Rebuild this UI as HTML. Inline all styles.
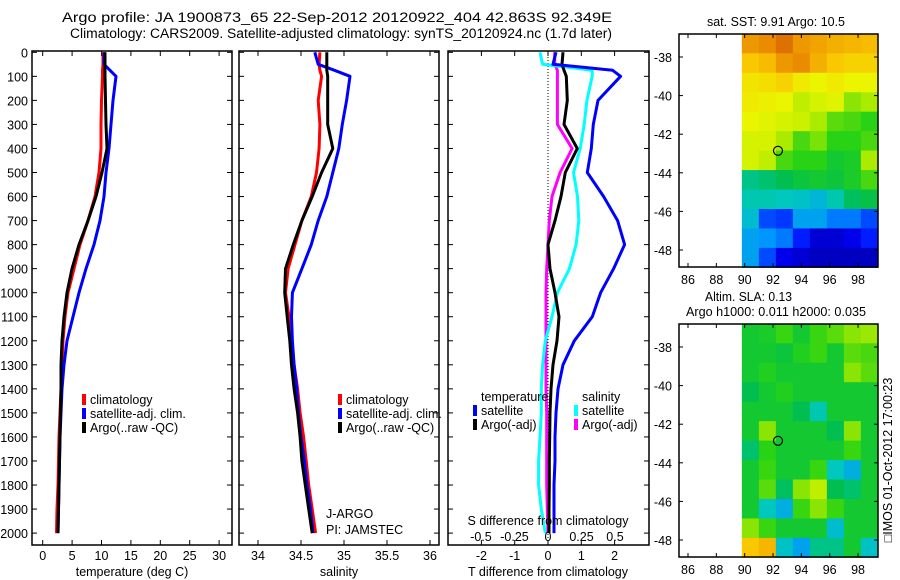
<!DOCTYPE html>
<html><head><meta charset="utf-8"><style>
html,body{margin:0;padding:0;background:#fff;}
svg{display:block;font-family:"Liberation Sans",sans-serif;}
text{font-size:12.5px;fill:#000;}
</style></head><body>
<svg id="chart" width="900" height="580" viewBox="0 0 900 580" xmlns="http://www.w3.org/2000/svg">
<text x="62" y="22" textLength="550" lengthAdjust="spacingAndGlyphs" style="font-size:13.5px">Argo profile: JA 1900873_65 22-Sep-2012 20120922_404 42.863S 92.349E</text>
<text x="70" y="38" textLength="542" lengthAdjust="spacingAndGlyphs" style="font-size:13.5px">Climatology: CARS2009. Satellite-adjusted climatology: synTS_20120924.nc (1.7d later)</text>
<g id="g"></g>
</svg>
<script>
const depths=[0,50,75,100,200,300,400,500,600,700,800,900,1000,1100,1200,1300,1400,1500,1600,1700,1800,1900,2000];
const tempClim=[10.26,10.26,10.17,10.17,10.0,9.91,9.91,9.57,8.89,7.70,6.34,5.32,4.30,3.79,3.45,3.28,3.11,2.94,2.77,2.69,2.60,2.43,2.35];
const tempSat=[10.43,10.43,11.45,12.47,11.96,11.62,11.28,10.77,10.43,9.74,8.72,7.36,6.17,5.15,4.13,3.62,3.28,3.11,2.94,2.86,2.77,2.69,2.60];
const tempArgo=[10.6,10.6,10.6,10.6,10.68,10.77,10.94,10.08,9.06,7.70,6.17,4.98,4.13,3.62,3.28,3.11,3.11,3.03,2.94,2.86,2.77,2.69,2.60];
const salClim=[34.72,34.71,34.72,34.74,34.70,34.72,34.71,34.68,34.62,34.51,34.43,34.35,34.32,34.36,34.39,34.42,34.46,34.49,34.53,34.56,34.59,34.63,34.67];
const salSat=[34.66,34.70,34.89,35.07,35.03,34.98,34.94,34.87,34.80,34.70,34.62,34.51,34.40,34.39,34.40,34.42,34.45,34.47,34.50,34.54,34.57,34.61,34.64];
const salArgo=[34.80,34.80,34.80,34.81,34.81,34.81,34.87,34.74,34.63,34.51,34.41,34.32,34.31,34.34,34.37,34.39,34.42,34.46,34.49,34.51,34.55,34.59,34.63];
const dTsat=[0.24,0.15,1.94,2.18,1.5,1.36,1.3,1.18,1.67,2.09,2.3,1.97,1.58,1.33,0.79,0.45,0.30,0.24,0.21,0.21,0.18,0.18,0.18];
const dTargo=[0.45,0.42,0.48,0.55,0.58,0.48,0.88,0.52,0.39,0.21,0.0,0.06,0.21,0.33,0.27,0.15,0.09,0.06,0.05,0.04,0.04,0.03,0.03];
const dSsat=[-0.06,-0.04,0.33,0.33,0.29,0.27,0.24,0.19,0.22,0.23,0.21,0.16,0.07,0.03,-0.02,-0.04,-0.05,-0.05,-0.06,-0.07,-0.07,-0.05,-0.02];
const dSargo=[0.05,0.05,0.07,0.07,0.07,0.07,0.18,0.09,0.03,0.01,0.0,-0.01,-0.015,-0.015,-0.015,-0.015,-0.015,-0.01,-0.01,-0.01,-0.01,-0.005,0];
const depthTicks=[0,100,200,300,400,500,600,700,800,900,1000,1100,1200,1300,1400,1500,1600,1700,1800,1900,2000];
const tempTicks=[0,5,10,15,20,25,30];
const salTicks=[34,34.5,35,35.5,36];
const dTTicks=[-2,-1,0,1,2];
const dSTicks=[-0.5,-0.25,0,0.25,0.5];
const lonTicks=[86,88,90,92,94,96,98];
const latTicks=[-38,-40,-42,-44,-46,-48];
const sstGrid=[
[0.80,0.82,0.85,0.80,0.78,0.76,0.75,0.74],
[0.72,0.74,0.80,0.82,0.76,0.72,0.70,0.70],
[0.67,0.68,0.70,0.66,0.64,0.66,0.64,0.64],
[0.66,0.65,0.64,0.60,0.62,0.63,0.56,0.58],
[0.64,0.63,0.62,0.61,0.58,0.53,0.52,0.50],
[0.62,0.62,0.58,0.52,0.55,0.50,0.50,0.52],
[0.62,0.60,0.52,0.50,0.50,0.47,0.48,0.58],
[0.40,0.42,0.44,0.46,0.47,0.46,0.48,0.52],
[0.37,0.37,0.36,0.35,0.33,0.37,0.43,0.45],
[0.34,0.20,0.18,0.30,0.30,0.25,0.25,0.20],
[0.30,0.28,0.25,0.15,0.08,0.08,0.10,0.15],
[0.30,0.20,0.10,0.08,0.06,0.06,0.06,0.06]];
const slaGrid=[
[0.47,0.48,0.51,0.47,0.51,0.53,0.56,0.57],
[0.47,0.47,0.46,0.49,0.51,0.47,0.53,0.52],
[0.47,0.49,0.47,0.47,0.47,0.47,0.56,0.53],
[0.44,0.47,0.49,0.47,0.47,0.47,0.47,0.47],
[0.47,0.47,0.47,0.44,0.37,0.47,0.47,0.47],
[0.47,0.56,0.47,0.47,0.47,0.44,0.56,0.47],
[0.42,0.50,0.47,0.47,0.47,0.47,0.51,0.47],
[0.47,0.51,0.47,0.47,0.51,0.36,0.32,0.47],
[0.47,0.53,0.43,0.56,0.60,0.44,0.42,0.47],
[0.47,0.36,0.32,0.51,0.56,0.51,0.47,0.47],
[0.56,0.51,0.47,0.47,0.47,0.34,0.47,0.47],
[0.72,0.75,0.35,0.30,0.40,0.40,0.47,0.35]];
const gridLon=[89.8,99.4];
const gridLat=[-36.8,-48.9];
const argoLon=92.35, argoLat=-42.86;

const NS="http://www.w3.org/2000/svg";
const G=document.getElementById('g');
function el(tag,attrs,parent){const e=document.createElementNS(NS,tag);for(const k in attrs)e.setAttribute(k,attrs[k]);(parent||G).appendChild(e);return e;}
function txt(s,x,y,anchor,parent){const t=el('text',{x:x,y:y,'text-anchor':anchor||'start'},parent);t.textContent=s;return t;}
const yD=d=>52.3+d*0.2404;
const TOP=51,BOT=545;
const xT=v=>42.7+5.88*v;
const xS=v=>258+86*(v-34);
const xdT=v=>548+33.3*v;
const xdS=v=>548+134*v;

function frame(x0,x1,name){
  const r=el('rect',{x:x0,y:TOP,width:x1-x0,height:BOT-TOP,fill:'none',stroke:'#000','stroke-width':1.5});
  
  
  depthTicks.forEach(d=>{el('line',{x1:x0,x2:x0+5,y1:yD(d),y2:yD(d),stroke:'#000'});el('line',{x1:x1,x2:x1-5,y1:yD(d),y2:yD(d),stroke:'#000'});});
}
function line(xs,xf,color,name){
  const p=depths.map((d,i)=>xf(xs[i]).toFixed(1)+','+yD(d).toFixed(1)).join(' ');
  const pl=el('polyline',{points:p,fill:'none',stroke:color,'stroke-width':3,'stroke-linejoin':'round'});
  
  
}
function xticks(ticks,xf,x0,x1,y,labelY,fmt){
  ticks.forEach(v=>{const x=xf(v);el('line',{x1:x,x2:x,y1:TOP,y2:TOP+5,stroke:'#000'});el('line',{x1:x,x2:x,y1:BOT,y2:BOT-5,stroke:'#000'});
    const t=txt(fmt?fmt(v):String(v),x,labelY,'middle');});
}
function legendEntry(x,y,color,label,name){
  el('rect',{x:x,y:y-10,width:4,height:11,fill:color});
  const t=txt(label,x+8,y);
  
  
}
depthTicks.forEach(d=>{const t=txt(String(d),28,yD(d)+5,'end');});
frame(32,232,'temperature-panel');
xticks(tempTicks,xT,32,232,BOT,560);
line(tempClim,xT,'#ff0000','temp-climatology-line');
line(tempSat,xT,'#0000ff','temp-satellite-line');
line(tempArgo,xT,'#000000','temp-argo-line');
let t=txt('temperature (deg C)',132,576,'middle');
legendEntry(82,404,'#ff0000','climatology','legend-climatology');
legendEntry(82,418,'#0000ff','satellite-adj. clim.','legend-satellite-adj');
legendEntry(82,432,'#000000','Argo(..raw -QC)','legend-argo');
frame(239,439,'salinity-panel');
xticks(salTicks,xS,239,439,BOT,560);
line(salClim,xS,'#ff0000','sal-climatology-line');
line(salSat,xS,'#0000ff','sal-satellite-line');
line(salArgo,xS,'#000000','sal-argo-line');
t=txt('salinity',339,576,'middle');
legendEntry(338,404,'#ff0000','climatology','legend-climatology-2');
legendEntry(338,418,'#0000ff','satellite-adj. clim.','legend-satellite-adj-2');
legendEntry(338,432,'#000000','Argo(..raw -QC)','legend-argo-2');
t=txt('J-ARGO',326,518);
t=txt('PI: JAMSTEC',326,534);
frame(448,649,'difference-panel');
el('line',{x1:xdT(0),x2:xdT(0),y1:TOP,y2:BOT,stroke:'#000','stroke-dasharray':'1,2'});
xticks(dTTicks,xdT,448,649,BOT,560);
line(dSargo,xdS,'#ff00ff','dS-argo-line');
line(dSsat,xdS,'#00ffff','dS-satellite-line');
line(dTargo,xdT,'#000000','dT-argo-line');
line(dTsat,xdT,'#0000ff','dT-satellite-line');
dSTicks.forEach(v=>{const t=txt(String(v),xdS(v),541,'middle');});
t=txt('S difference from climatology',548,525,'middle');
t=txt('T difference from climatology',548,576,'middle');
t=txt('temperature',481,401);
legendEntry(473,415,'#0000ff','satellite','legend-t-satellite');
legendEntry(473,429,'#000000','Argo(-adj)','legend-t-argo');
t=txt('salinity',582,401);
legendEntry(574,415,'#00ffff','satellite','legend-s-satellite');
legendEntry(574,429,'#ff00ff','Argo(-adj)','legend-s-argo');
const stops=[[0,[0,0,130]],[0.12,[0,0,255]],[0.28,[0,150,255]],[0.36,[0,200,190]],[0.44,[0,190,80]],[0.5,[40,210,20]],[0.58,[170,235,0]],[0.64,[235,245,0]],[0.72,[250,200,0]],[0.82,[235,140,0]],[0.9,[200,70,0]],[1,[150,20,0]]];
function cmap(v){for(let i=1;i<stops.length;i++){if(v<=stops[i][0]){const a=stops[i-1],b=stops[i];const f=(v-a[0])/(b[0]-a[0]);const c=a[1].map((x,k)=>Math.round(x+(b[1][k]-x)*f));return 'rgb('+c.join(',')+')';}}return 'rgb(150,20,0)';}
function map(grid,y0,name){
  const x0=679,x1=878,y1=y0+233;
  const xL=lon=>688+(lon-86)*14.17;
  const yL=lat=>y0+23+(-38-lat)*19.3;
  const g=el('g',{});
  
  
  const rows=grid.length,cols=grid[0].length;
  const gx0=xL(gridLon[0]),gx1=Math.min(xL(gridLon[1]),x1),gy0=yL(gridLat[0]),gy1=yL(gridLat[1]);
  const cw=(gx1-gx0)/cols,ch=(gy1-gy0)/rows;
  grid.forEach((row,r)=>row.forEach((v,c)=>{const cell=el('rect',{x:gx0+c*cw,y:gy0+r*ch,width:cw+0.5,height:ch+0.5,fill:cmap(v)},g);
    
    }));
  el('rect',{x:x0,y:y0,width:x1-x0,height:y1-y0,fill:'none',stroke:'#000','stroke-width':1.5});
  lonTicks.forEach(l=>{const x=xL(l);el('line',{x1:x,x2:x,y1:y0,y2:y0+4,stroke:'#000'});el('line',{x1:x,x2:x,y1:y1,y2:y1-4,stroke:'#000'});
    const t=txt(String(l),x,y1+17,'middle');});
  latTicks.forEach(l=>{const y=yL(l);el('line',{x1:x0,x2:x0+4,y1:y,y2:y,stroke:'#000'});el('line',{x1:x1,x2:x1-4,y1:y,y2:y,stroke:'#000'});
    const t=txt(String(l),672,y+5,'end');});
  const m=el('circle',{cx:xL(argoLon),cy:yL(argoLat),r:4.5,fill:'none',stroke:'#000','stroke-width':1.2});
  
  
}
map(sstGrid,34,'sst-map');
map(slaGrid,324,'sla-map');
t=txt('sat. SST: 9.91  Argo: 10.5',707,26);t.setAttribute('textLength','138');t.setAttribute('lengthAdjust','spacingAndGlyphs');
t=txt('Altim. SLA: 0.13',705,301);t.setAttribute('textLength','87');t.setAttribute('lengthAdjust','spacingAndGlyphs');
t=txt('Argo h1000: 0.011 h2000: 0.035',686,316);t.setAttribute('textLength','180');t.setAttribute('lengthAdjust','spacingAndGlyphs');
t=txt('\u25A1IMOS 01-Oct-2012 17:00:23',0,0,'middle');t.setAttribute('transform','translate(892,460) rotate(-90)');
</script>
</body></html>
